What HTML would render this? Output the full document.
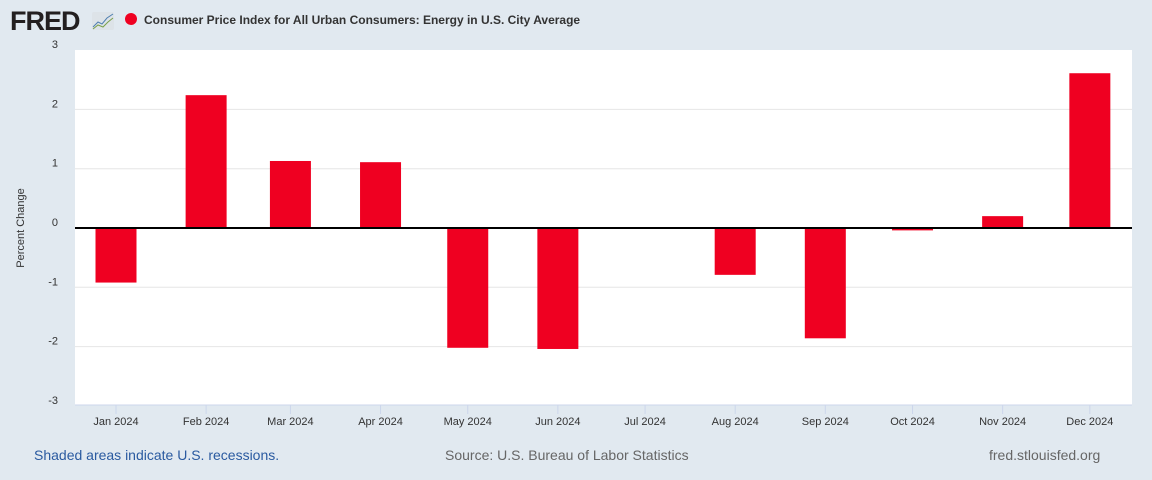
<!DOCTYPE html>
<html><head><meta charset="utf-8"><style>
body{margin:0;width:1152px;height:480px;background:#e1e9f0;font-family:"Liberation Sans",Arial,sans-serif;overflow:hidden}
svg{position:absolute;left:0;top:0}
</style></head><body>
<svg width="1152" height="480">
<text x="10" y="30" font-size="27" font-weight="bold" fill="#231f20" letter-spacing="-1">FRED</text>
<g><rect x="92" y="12" width="22" height="18" rx="2" fill="#dde3e8"/><polyline points="93,27 98,22 102,24 107,18 113,14" fill="none" stroke="#4f7fb0" stroke-width="1"/><polyline points="93,29 98,25 103,27 108,22 113,18" fill="none" stroke="#7aa04a" stroke-width="1"/></g>
<circle cx="131" cy="19" r="6" fill="#ef0021"/>
<text x="144" y="24" font-size="12" font-weight="bold" fill="#333">Consumer Price Index for All Urban Consumers: Energy in U.S. City Average</text>
<rect x="75" y="50" width="1057" height="355" fill="#fff"/>
<g id="grid"></g><g id="bars"></g><g id="xaxis"></g>
<text transform="translate(24,228) rotate(-90)" text-anchor="middle" font-size="11" fill="#333">Percent Change</text>
<text x="34" y="460" font-size="14" fill="#2a5aa0">Shaded areas indicate U.S. recessions.</text>
<text x="445" y="460" font-size="14" fill="#666">Source: U.S. Bureau of Labor Statistics</text>
<text x="989" y="460" font-size="14" fill="#666">fred.stlouisfed.org</text>
</svg>
<script>
const categories=["Jan 2024","Feb 2024","Mar 2024","Apr 2024","May 2024","Jun 2024","Jul 2024","Aug 2024","Sep 2024","Oct 2024","Nov 2024","Dec 2024"];
const values=[-0.92,2.24,1.13,1.11,-2.02,-2.04,0,-0.79,-1.86,-0.04,0.2,2.61];
const yTicks=[-3,-2,-1,0,1,2,3];
const NS="http://www.w3.org/2000/svg";
const y=v=>228-v*59.3;
const x=i=>{const d=(Date.UTC(2024,i,1)-Date.UTC(2024,0,1))/864e5;return 116+d*2.907;};
const g=document.getElementById('grid'),b=document.getElementById('bars'),xa=document.getElementById('xaxis');
function mk(t,a,p){const e=document.createElementNS(NS,t);for(const k in a)e.setAttribute(k,a[k]);p.appendChild(e);return e;}
yTicks.forEach(t=>{
 if(t!==0&&t>-3&&t<3){const l=mk('line',{x1:75,x2:1132,y1:y(t),y2:y(t),stroke:'#e6e6e6'},g);
 
 }
 const tx=mk('text',{x:58,y:y(t)-6+4,'text-anchor':'end','font-size':11,fill:'#333'},g);tx.textContent=t;
 
 
});
values.forEach((v,i)=>{
 const top=Math.min(y(v),y(0)),h=Math.abs(y(v)-y(0));
 const r=mk('rect',{x:x(i)-20.5,y:top,width:41,height:Math.max(h,1),fill:'#ef0021'},b);
 
 
 const tk=mk('line',{x1:x(i),x2:x(i),y1:405,y2:414,stroke:'#ccd6eb'},xa);
 
 
 const tl=mk('text',{x:x(i),y:425,'text-anchor':'middle','font-size':11,fill:'#333'},xa);tl.textContent=categories[i];
 
 
});
const z=mk('line',{x1:75,x2:1132,y1:y(0),y2:y(0),stroke:'#000','stroke-width':2},xa);


const ax=mk('line',{x1:75,x2:1132,y1:405,y2:405,stroke:'#ccd6eb'},xa);


</script>
</body></html>
